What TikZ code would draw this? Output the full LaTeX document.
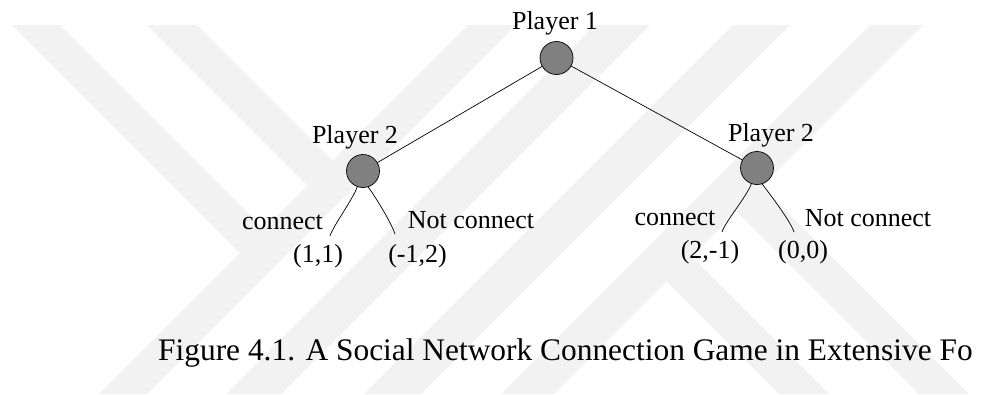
\documentclass[tikz,border=0pt]{standalone}
\usepackage{fontspec}
\setmainfont{Liberation Serif}
\begin{document}
\begin{tikzpicture}[x=1pt,y=-1pt,
  wm/.style={fill=black!5, draw=none},
  pnode/.style={circle, draw=black, fill=black!50, line width=0.7pt, minimum size=33pt, inner sep=0pt},
  lbl/.style={font=\fontsize{26}{30}\selectfont, inner sep=0pt, anchor=base},
  capt/.style={font=\fontsize{31.4}{38}\selectfont, inner sep=0pt, anchor=base west},
  edge/.style={line width=0.7pt, draw=black}]
\useasboundingbox (0,0) rectangle (985,394);
\fill[white] (0,0) rectangle (985,394);
% watermark
\begin{scope}
\clip (0,25) rectangle (985,394);
\fill[wm] (468,25) -- (516,25) -- (147,394) -- (99,394) -- cycle;
\fill[wm] (595,25) -- (650,25) -- (281,394) -- (226,394) -- cycle;
\fill[wm] (733,25) -- (790,25) -- (421,394) -- (364,394) -- cycle;
\fill[wm] (870,25) -- (923,25) -- (554,394) -- (501,394) -- cycle;
\fill[wm] (12,25) -- (60,25) -- (264,229) -- (240,253) -- cycle;
\fill[wm] (147,25) -- (197,25) -- (332.5,160.5) -- (307.5,185.5) -- cycle;
\fill[wm] (666.5,281.5) -- (691.5,256.5) -- (829,394) -- (779,394) -- cycle;
\fill[wm] (736.5,211.5) -- (761.5,186.5) -- (969,394) -- (919,394) -- cycle;
\end{scope}
% tree
\node[pnode] (p1) at (556.5,58) {};
\node[pnode] (p2l) at (363,171) {};
\node[pnode] (p2r) at (757,168) {};
\draw[edge] (p1) -- (p2l);
\draw[edge] (p1) -- (p2r);
\coordinate (c1) at (330,236);
\coordinate (c2) at (395,234);
\coordinate (c3) at (722,232);
\coordinate (c4) at (794,232);
\draw[edge] (p2l.250) .. controls +(-4,12) and +(3,-10) .. (c1);
\draw[edge] (p2l.288) .. controls +(6,8) and +(-4,-12) .. (c2);
\draw[edge] (p2r.250) .. controls +(-4,12) and +(3,-10) .. (c3);
\draw[edge] (p2r.288) .. controls +(6,8) and +(-4,-12) .. (c4);
% labels
\node[lbl] (t1) at (555,29.5) {Player 1};
\node[lbl] (t2l) at (355,143) {Player 2};
\node[lbl] (t2r) at (771,141) {Player 2};
\node[lbl] (cl) at (282.5,229) {connect};
\node[lbl] (nl) at (471,228) {Not connect};
\node[lbl] (v1) at (318,262) {(1,1)};
\node[lbl] (v2) at (417.5,262) {(-1,2)};
\node[lbl] (cr) at (675,225) {connect};
\node[lbl] (nr) at (868,226) {Not connect};
\node[lbl] (v3) at (710,258) {(2,-1)};
\node[lbl] (v4) at (803,258) {(0,0)};
\node[capt] (cap) at (158,360) {Figure 4.1. A Social Network Connection Game in Extensive Fo};
\end{tikzpicture}
\end{document}
